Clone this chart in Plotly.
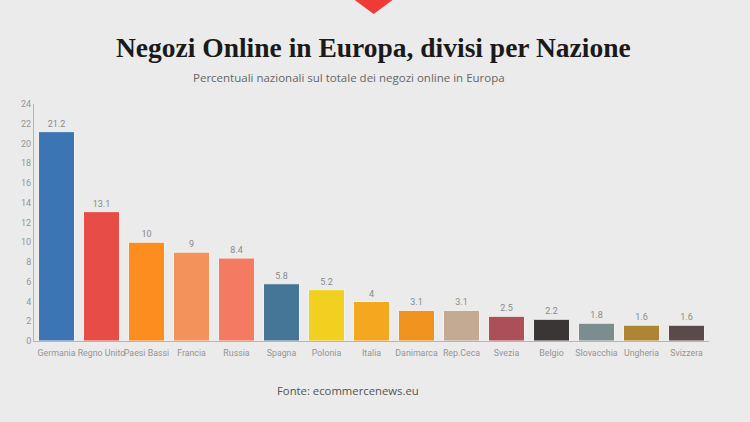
import plotly.graph_objects as go

categories = ["Germania", "Regno Unito", "Paesi Bassi", "Francia", "Russia", "Spagna",
              "Polonia", "Italia", "Danimarca", "Rep.Ceca", "Svezia", "Belgio",
              "Slovacchia", "Ungheria", "Svizzera"]
values = [21.2, 13.1, 10, 9, 8.4, 5.8, 5.2, 4, 3.1, 3.1, 2.5, 2.2, 1.8, 1.6, 1.6]
colors = ["#3b75b3", "#e84c47", "#fd8d1e", "#f4925b", "#f47a61", "#457597",
          "#f2d01f", "#f4a81f", "#f0941f", "#c4aa92", "#ad4f58", "#3a3636",
          "#7b8d8f", "#ad8535", "#5a4b4b"]
y_ticks = list(range(0, 25, 2))

BG = "#ebebeb"

fig = go.Figure(go.Bar(
    x=categories, y=values,
    marker=dict(color=colors, line=dict(color="#f4f0ec", width=1)),
    text=[f"{v:g}" for v in values], textposition="outside",
    textfont=dict(family="Roboto", size=9, color="#8a8a8a"),
    cliponaxis=False,
))

fig.update_layout(
    width=750, height=422,
    paper_bgcolor=BG, plot_bgcolor=BG,
    margin=dict(l=34, r=41, t=104, b=81),
    bargap=0.2,
    showlegend=False,
    xaxis=dict(showgrid=False, showline=True, linecolor="#b5b5b5", linewidth=1,
               ticks="outside", ticklen=3, tickcolor=BG, tickangle=0,
               tickfont=dict(family="Roboto", size=8.8, color="#959595"),
               zeroline=False),
    yaxis=dict(range=[0, 24], tickvals=y_ticks, showgrid=False, showline=True,
               linecolor="#b5b5b5", linewidth=1, ticks="", zeroline=False,
               tickfont=dict(family="Roboto", size=9, color="#959595")),
    shapes=[dict(type="path", xref="paper", yref="paper",
                 path="M 0.4752 1.4388 L 0.5312 1.4388 L 0.5032 1.3797 Z",
                 fillcolor="#ee3b36", line=dict(width=0))],
    annotations=[
        dict(text="<b>Negozi Online in Europa, divisi per Nazione</b>", xref="paper", yref="paper",
             x=(373-34)/675, y=(341-47)/237, xanchor="center", yanchor="middle",
             showarrow=False, font=dict(family="Liberation Serif", size=27.5, color="#1a1a1a")),
        dict(text="Percentuali nazionali sul totale dei negozi online in Europa", xref="paper", yref="paper",
             x=(349-34)/675, y=(341-77)/237, xanchor="center", yanchor="middle",
             showarrow=False, font=dict(family="Open Sans", size=11.5, color="#666666")),
        dict(text="Fonte: ecommercenews.eu", xref="paper", yref="paper",
             x=(348-34)/675, y=(341-390)/237, xanchor="center", yanchor="middle",
             showarrow=False, font=dict(family="Open Sans", size=11.3, color="#555555")),
    ],
)

fig.write_html("out.html")
